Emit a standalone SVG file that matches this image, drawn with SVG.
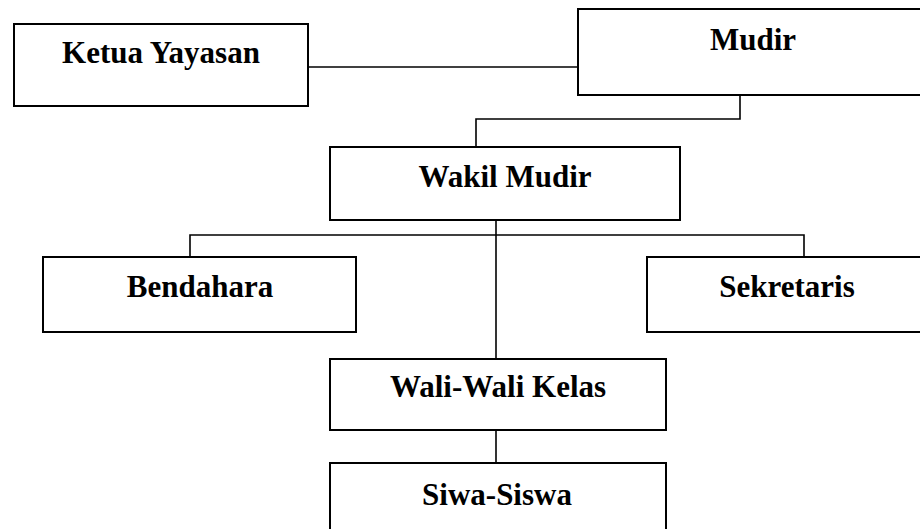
<svg xmlns="http://www.w3.org/2000/svg" width="920" height="529" viewBox="0 0 920 529">
<style>
.box{fill:#fff;stroke:#000;stroke-width:2}
.lbl{font-family:"Liberation Serif","Times New Roman",serif;font-weight:bold;font-size:31px;fill:#000;text-anchor:middle}
.con{fill:none;stroke:#000;stroke-width:1.6}
</style>
<rect width="920" height="529" fill="#fff"/>
<g id="connectors">
<path class="con" d="M308,67 H578"/>
<path class="con" d="M740,95 V119 H476 V147"/>
<path class="con" d="M496,220 V359"/>
<path class="con" d="M190,257 V235 H804 V257"/>
<path class="con" d="M496,430 V463"/>
</g>
<g id="ketua"><rect class="box" x="14" y="24" width="294" height="82"/><text class="lbl" x="161" y="63">Ketua Yayasan</text></g>
<g id="mudir"><rect class="box" x="578" y="9" width="352" height="86"/><text class="lbl" x="753" y="50">Mudir</text></g>
<g id="wakil"><rect class="box" x="330" y="147" width="350" height="73"/><text class="lbl" x="505" y="187">Wakil Mudir</text></g>
<g id="bendahara"><rect class="box" x="43" y="257" width="313" height="75"/><text class="lbl" x="200" y="297">Bendahara</text></g>
<g id="sekretaris"><rect class="box" x="647" y="257" width="283" height="75"/><text class="lbl" x="787" y="297">Sekretaris</text></g>
<g id="wali"><rect class="box" x="330" y="359" width="336" height="71"/><text class="lbl" x="498" y="397">Wali-Wali Kelas</text></g>
<g id="siswa"><rect class="box" x="330" y="463" width="336" height="80"/><text class="lbl" x="497" y="505">Siwa-Siswa</text></g>
</svg>
